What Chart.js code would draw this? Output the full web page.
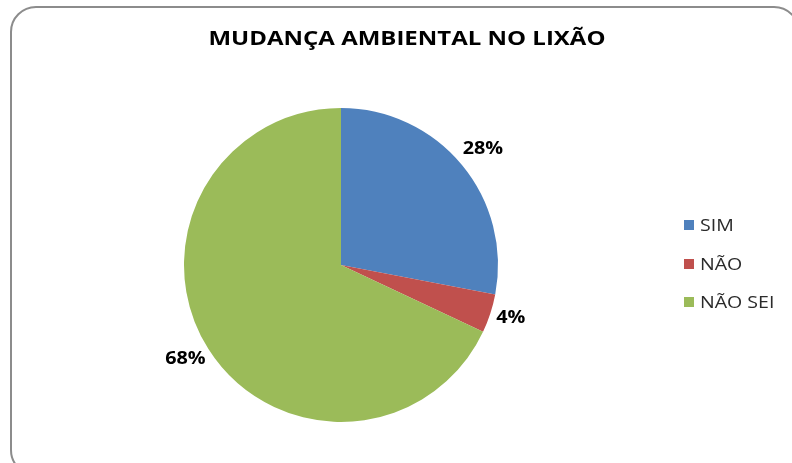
<!DOCTYPE html>
<html>
<head>
<meta charset="utf-8">
<script src="https://cdn.jsdelivr.net/npm/chart.js@4"></script>
<style>
  html, body { margin: 0; padding: 0; background: #fff; overflow: hidden; }
  #wrap { position: relative; width: 792px; height: 463px; }
  #frame {
    position: absolute; left: 10px; top: 6px; width: 790px; height: 470px;
    border: 2px solid #8c8c8c; border-radius: 26px; box-sizing: border-box;
  }
  canvas { position: absolute; left: 0; top: 0; }
</style>
</head>
<body>
<div id="wrap">
  <div id="frame"></div>
  <canvas id="myChart" width="792" height="463"></canvas>
</div>
<script>
// chart data
var titleText = 'MUDANÇA AMBIENTAL NO LIXÃO';
var categories = ['SIM', 'NÃO', 'NÃO SEI'];
var values = [28, 4, 68];
var colors = ['#4F81BD', '#C0504D', '#9BBB59'];

var fontFamily = '"Open Sans", "Liberation Sans", sans-serif';

// draw text stretched horizontally (the original glyphs are wide)
function wideText(ctx, txt, x, y, sx) {
    ctx.save();
    ctx.translate(x, y);
    ctx.scale(sx, 1);
    ctx.fillText(txt, 0, 0);
    ctx.restore();
}

// title, legend and % labels drawn on the canvas
var decorations = {
    id: 'decorations',
    afterDraw: function(chart) {
        var ctx = chart.ctx;
        ctx.save();

        // title
        ctx.fillStyle = '#000';
        ctx.font = 'bold 19px ' + fontFamily;
        ctx.textAlign = 'center';
        ctx.textBaseline = 'alphabetic';
        var tw = ctx.measureText(titleText).width;
        wideText(ctx, titleText, 407, 45, 397 / tw);

        // slice labels
        ctx.font = 'bold 18px ' + fontFamily;
        ctx.textBaseline = 'middle';
        var total = values.reduce(function(a, b) { return a + b; }, 0);
        chart.getDatasetMeta(0).data.forEach(function(arc, i) {
            var mid = (arc.startAngle + arc.endAngle) / 2;
            var dx = Math.cos(mid), dy = Math.sin(mid);
            var txt = Math.round(values[i] / total * 100) + '%';
            var w = ctx.measureText(txt).width * 1.1;
            var r = arc.outerRadius + 7;
            var x = arc.x + dx * r + dx * w / 2;
            var y = arc.y + dy * r + dy * 15;
            wideText(ctx, txt, x, y - 2, 1.1);
        });

        // legend
        ctx.font = '17px ' + fontFamily;
        ctx.textAlign = 'left';
        ctx.textBaseline = 'alphabetic';
        var ly = [225, 264, 302];
        categories.forEach(function(c, i) {
            ctx.fillStyle = colors[i];
            ctx.fillRect(684, ly[i] - 5, 10, 10);
            ctx.fillStyle = '#2b2b2b';
            wideText(ctx, c, 700, ly[i] + 6, 1.15);
        });
        ctx.restore();
    }
};

var ctx = document.getElementById('myChart').getContext('2d');
var myChart = new Chart(ctx, {
    type: 'pie',
    data: {
        labels: categories,
        datasets: [{
            data: values,
            backgroundColor: colors,
            borderWidth: 0
        }]
    },
    options: {
        responsive: false,
        animation: false,
        layout: {
            padding: { top: 108, bottom: 41, left: 100, right: 210 }
        },
        plugins: {
            legend: { display: false },
            title: { display: false },
            tooltip: { enabled: false }
        }
    },
    plugins: [decorations]
});
</script>
</body>
</html>
